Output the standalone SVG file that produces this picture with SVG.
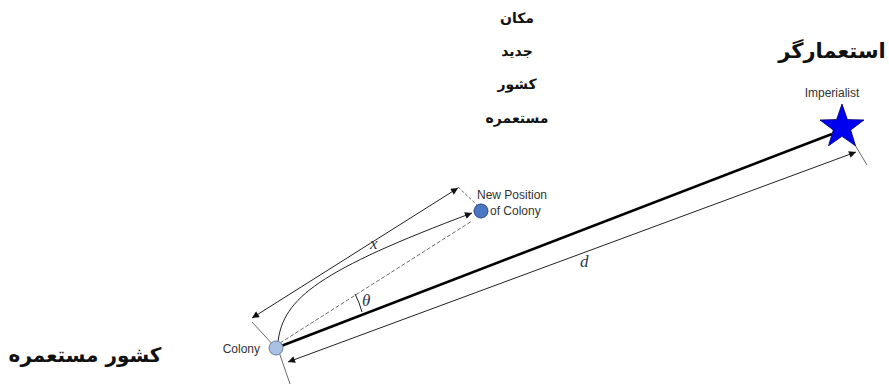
<svg xmlns="http://www.w3.org/2000/svg" width="889" height="386" viewBox="0 0 889 386">
<defs>
<marker id="ah" viewBox="0 0 10 10" refX="10" refY="5" markerWidth="9" markerHeight="7" orient="auto-start-reverse" markerUnits="userSpaceOnUse"><path d="M0,0 L10,5 L0,10 z" fill="#111"/></marker>
</defs>
<style>
.fa{font-family:"DejaVu Sans",sans-serif;font-weight:bold;fill:#111;text-anchor:middle}
.en{font-family:"Liberation Sans",Arial,sans-serif;font-size:12px;fill:#333}
.sym{font-family:"Liberation Serif",serif;font-style:italic;font-size:17px;fill:#2a3550}
.dim{stroke:#222;stroke-width:1;fill:none}
.ext{stroke:#444;stroke-width:0.8;fill:none}
</style>
<rect width="889" height="386" fill="#fff"/>
<g id="connectors">
<line x1="276" y1="348" x2="832" y2="134" stroke="#000" stroke-width="2.6"/>
<line class="dim" x1="252" y1="318" x2="458" y2="188" marker-start="url(#ah)" marker-end="url(#ah)"/>
<line class="ext" x1="276" y1="348" x2="252" y2="322"/>
<line class="ext" x1="458" y1="187" x2="478" y2="206" stroke-dasharray="3,2"/>
<path class="dim" d="M278,342 C283,298 320,270 472,213" marker-end="url(#ah)"/>
<line class="ext" x1="280" y1="343" x2="472" y2="221" stroke-dasharray="4,2"/>
<path class="dim" d="M355,294 A85,85 0 0 1 362,312"/>
<line class="dim" x1="288" y1="362" x2="856" y2="152" marker-start="url(#ah)" marker-end="url(#ah)"/>
<line class="ext" x1="279" y1="352" x2="290" y2="384"/>
<line class="ext" x1="852" y1="140" x2="867" y2="165"/>
</g>
<g id="colony">
<circle cx="276" cy="348" r="7" fill="#a9c1e4" stroke="#6a7f9a" stroke-width="1"/>
<text class="en" x="260" y="353" text-anchor="end">Colony</text>
</g>
<g id="new-position">
<circle cx="481" cy="211" r="7" fill="#4a78c2" stroke="#2c4a80" stroke-width="1"/>
<text class="en" x="477" y="199">New Position</text>
<text class="en" x="490" y="215">of Colony</text>
</g>
<g id="imperialist">
<polygon points="842,104 847.4,119.6 864,120 850.7,130 855.5,145.8 842,136.3 828.5,145.8 833.3,130 820,120 836.6,119.6" fill="#0000f0" stroke="#000060" stroke-width="0.8"/>
<text class="en" x="832" y="97" text-anchor="middle" font-size="11">Imperialist</text>
</g>
<g id="labels">
<text class="sym" x="370" y="249">x</text>
<text class="sym" x="362" y="306">θ</text>
<text class="sym" x="580" y="267">d</text>
<text class="fa" x="517" y="23" font-size="14">مکان</text>
<text class="fa" x="517" y="56" font-size="14">جدید</text>
<text class="fa" x="517" y="89" font-size="14">کشور</text>
<text class="fa" x="517" y="123" font-size="14">مستعمره</text>
<text class="fa" x="832" y="58" font-size="21">استعمارگر</text>
<text class="fa" x="85" y="362" font-size="20">کشور مستعمره</text>
</g>
</svg>
